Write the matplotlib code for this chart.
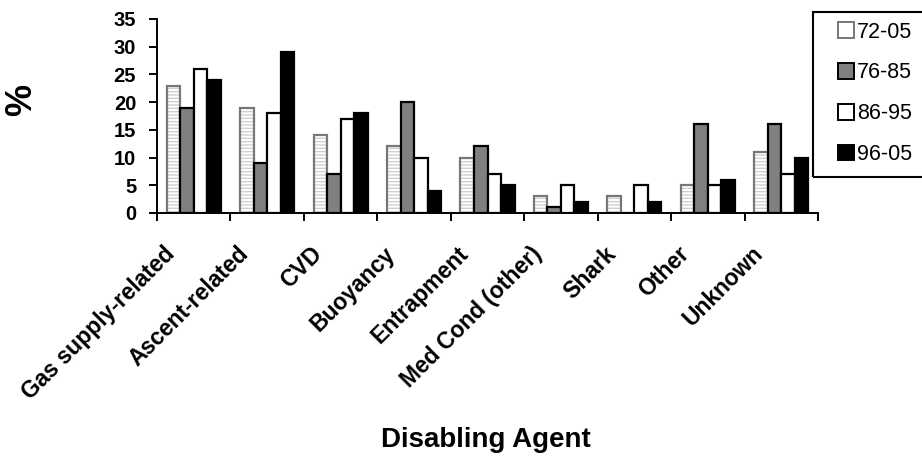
import numpy as np
import matplotlib
matplotlib.use("Agg")
import matplotlib.pyplot as plt
import matplotlib.transforms as mtransforms
from matplotlib.patches import Patch, Rectangle

plt.rcParams['font.family'] = ['Liberation Sans', 'DejaVu Sans']

categories = ["Gas supply-related", "Ascent-related", "CVD", "Buoyancy", "Entrapment",
              "Med Cond (other)", "Shark", "Other", "Unknown"]
series = ["72-05", "76-85", "86-95", "96-05"]
v7205 = [23, 19, 14, 12, 10, 3, 3, 5, 11]
v7685 = [19, 9, 7, 20, 12, 1, 0, 16, 16]
v8695 = [26, 18, 17, 10, 7, 5, 5, 5, 7]
v9605 = [24, 29, 18, 4, 5, 2, 2, 6, 10]
yticks = [0, 5, 10, 15, 20, 25, 30, 35]

fig = plt.figure(figsize=(9.22, 4.58), dpi=100)
ax = fig.add_axes([157/922, 1-213/458, (818-157)/922, (213-19)/458])

x = np.arange(len(categories))
w = 0.184
lw = 1.6

# 72-05: white with light horizontal hatching
ax.bar(x - 1.5*w, v7205, w, facecolor='white', edgecolor='#d0d0d0', hatch='-----', linewidth=0)
ax.bar(x - 1.5*w, v7205, w, facecolor='none', edgecolor='#777777', linewidth=lw)
ax.bar(x - 0.5*w, v7685, w, facecolor='#808080', edgecolor='black', linewidth=lw)
ax.bar(x + 0.5*w, v8695, w, facecolor='white', edgecolor='black', linewidth=lw)
ax.bar(x + 1.5*w, v9605, w, facecolor='black', edgecolor='black', linewidth=lw)

ax.set_xlim(-0.5, len(categories) - 0.5)
ax.set_ylim(0, 35)
ax.set_yticks(yticks)
ax.set_yticklabels([str(t) for t in yticks], fontsize=14.5, fontweight='bold')
ax.set_xticks(x)
ax.set_xticklabels(categories, rotation=45, ha='right', va='top', fontsize=16.5, fontweight='bold')
ax.set_xticks(np.arange(len(categories) + 1) - 0.5, minor=True)
ax.tick_params(axis='x', which='major', length=0, pad=21)
ax.tick_params(axis='x', which='minor', length=6, width=1.4, direction='out')
ax.tick_params(axis='y', length=6, width=1.4, direction='out', pad=9)
offset = mtransforms.ScaledTranslation(-14/100, 0, fig.dpi_scale_trans)
for lab in ax.get_xticklabels():
    lab.set_transform(lab.get_transform() + offset)

for s in ['top', 'right']:
    ax.spines[s].set_visible(False)
for s in ['left', 'bottom']:
    ax.spines[s].set_linewidth(1.4)

fig.text(22/922, 1-100/458, "%", rotation=90, fontsize=26, fontweight='bold', ha='center', va='center')
fig.text(486/922, 1-440/458, "Disabling Agent", fontsize=20, fontweight='bold', ha='center', va='center')

handles = [
    Patch(facecolor='white', edgecolor='#777777', linewidth=1.4),
    Patch(facecolor='#808080', edgecolor='black', linewidth=1.4),
    Patch(facecolor='white', edgecolor='black', linewidth=1.4),
    Patch(facecolor='black', edgecolor='black', linewidth=1.4),
]
leg = fig.legend(handles, series, loc='upper left', bbox_to_anchor=(814/922, 1+2/458),
                 fontsize=15.5, frameon=False, handlelength=0.75, handleheight=0.75,
                 handletextpad=0.15, labelspacing=0.92, borderpad=0.6)
fig.add_artist(Rectangle((813/922, 1-177/458), 0.2, (177-12)/458, transform=fig.transFigure,
                         facecolor='none', edgecolor='black', linewidth=1.5, clip_on=False))

fig.savefig("out.png", dpi=100)
